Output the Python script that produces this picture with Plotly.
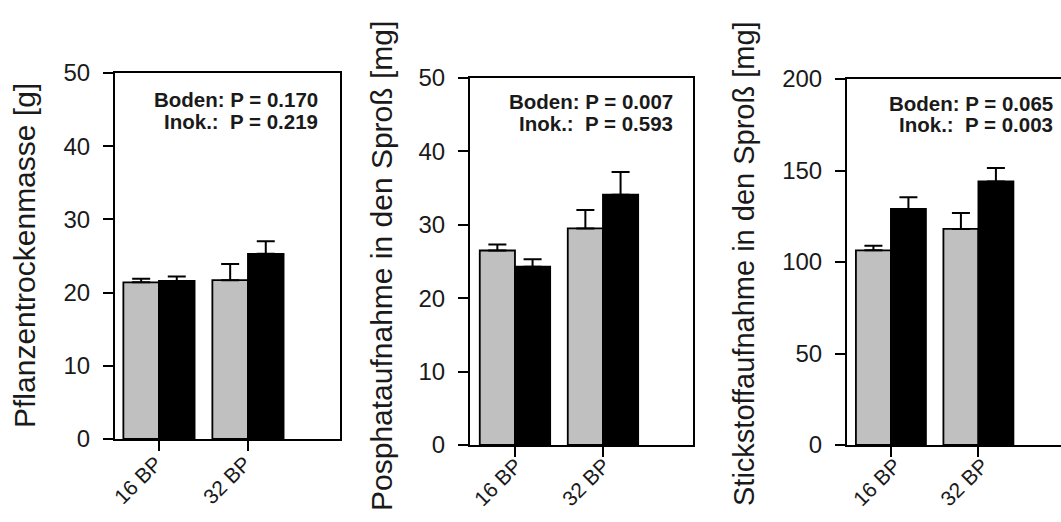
import plotly.graph_objects as go

# ---------------- data ----------------
categories = ["16 BP", "32 BP"]

# Panel 1: Pflanzentrockenmasse [g]
mass_gray = [21.4, 21.7]
mass_gray_err = [0.5, 2.2]
mass_black = [21.6, 25.3]
mass_black_err = [0.6, 1.7]

# Panel 2: Posphataufnahme in den Sproß [mg]
phos_gray = [26.5, 29.5]
phos_gray_err = [0.8, 2.5]
phos_black = [24.3, 34.1]
phos_black_err = [1.0, 3.1]

# Panel 3: Stickstoffaufnahme in den Sproß [mg]
nitro_gray = [106.4, 118.1]
nitro_gray_err = [2.5, 8.7]
nitro_black = [129.0, 144.0]
nitro_black_err = [6.4, 7.3]

y_titles = ["Pflanzentrockenmasse [g]",
            "Posphataufnahme in den Sproß [mg]",
            "Stickstoffaufnahme in den Sproß [mg]"]
p_boden = ["0.170", "0.007", "0.065"]
p_inok = ["0.219", "0.593", "0.003"]
y_max = [50, 50, 200]
y_dtick = [10, 10, 50]

# ---------------- layout helpers ----------------
W, H = 1061, 522
FONT = "Liberation Sans, Arial, sans-serif"
GRAY = "#c0c0c0"
TXT = "#1a1a1a"

# panel boxes in pixels: (left, right, top, bottom)
boxes = [(115, 340, 73, 439), (470, 693, 78, 445), (847, 1061, 79, 445)]
xranges = [[-0.494, 2.034], [-0.511, 2.023], [-0.502, 1.944]]
title_pos = [(24, 256, 30), (381, 266, 30), (744, 264, 29)]
ann_pos = [(320, 99, 121.5), (675, 102, 123.5), (1055, 103.5, 124.5)]
xlab_standoff = [-8, -12, -12]
xlab_shift = [-3, 1, 4]

panels = [
    (mass_gray, mass_gray_err, mass_black, mass_black_err),
    (phos_gray, phos_gray_err, phos_black, phos_black_err),
    (nitro_gray, nitro_gray_err, nitro_black, nitro_black_err),
]

fig = go.Figure()
annotations = []
for i, (g, ge, b, be) in enumerate(panels):
    suf = "" if i == 0 else str(i + 1)
    xa, ya = "x" + suf, "y" + suf
    for vals, errs, col in ((g, ge, GRAY), (b, be, "black")):
        fig.add_trace(go.Bar(
            x=categories, y=vals, xaxis=xa, yaxis=ya,
            marker=dict(color=col, line=dict(color="black", width=1.8)),
            error_y=dict(type="data", symmetric=False, array=errs,
                         arrayminus=[0] * len(errs), color="black",
                         thickness=2, width=9),
            showlegend=False,
        ))
    l, r, t, btm = boxes[i]
    fig.layout["xaxis" + suf] = dict(
        domain=[l / W, r / W], anchor=ya, range=xranges[i],
        showline=True, linecolor="black", linewidth=2,
        mirror=True, ticks="outside", ticklen=10, tickwidth=2,
        tickcolor="black", tickangle=-45, automargin=False,
        tickfont=dict(family=FONT, size=21, color=TXT),
        ticklabelstandoff=xlab_standoff[i], ticklabelshift=xlab_shift[i],
        showgrid=False, zeroline=False, fixedrange=True,
    )
    fig.layout["yaxis" + suf] = dict(
        domain=[(H - btm) / H, (H - t) / H], anchor=xa,
        range=[0, y_max[i]], dtick=y_dtick[i], tick0=0,
        showline=True, linecolor="black", linewidth=2,
        mirror=(i < 2), ticks="outside", ticklen=10, tickwidth=2,
        tickcolor="black", automargin=False,
        tickfont=dict(family=FONT, size=24, color=TXT),
        showgrid=False, zeroline=False, fixedrange=True,
        ticklabelstandoff=8,
    )
    tx, ty, ts = title_pos[i]
    annotations.append(dict(
        x=tx / W, y=(H - ty) / H, xref="paper", yref="paper",
        text=y_titles[i], textangle=-90, showarrow=False,
        xanchor="center", yanchor="middle",
        font=dict(family=FONT, size=ts, color=TXT),
    ))
    ax, y1, y2 = ann_pos[i]
    annotations.append(dict(
        x=ax / W, y=(H - y1) / H, xref="paper", yref="paper",
        text="<b>Boden: P = " + p_boden[i] + "</b>", showarrow=False,
        xanchor="right", yanchor="middle",
        font=dict(family=FONT, size=20.5, color=TXT),
    ))
    annotations.append(dict(
        x=ax / W, y=(H - y2) / H, xref="paper", yref="paper",
        text="<b>Inok.:\u00a0 P = " + p_inok[i] + "</b>", showarrow=False,
        xanchor="right", yanchor="middle",
        font=dict(family=FONT, size=20.5, color=TXT),
    ))

fig.update_layout(
    width=W, height=H, margin=dict(l=0, r=0, t=0, b=0),
    paper_bgcolor="white", plot_bgcolor="white",
    barmode="group", bargap=0.2, bargroupgap=0,
    annotations=annotations, showlegend=False,
)

fig.write_html(
    "out.html",
    config={"displayModeBar": False},
    post_script="document.body.style.margin='0px';"
                "document.body.style.overflow='hidden';",
)
